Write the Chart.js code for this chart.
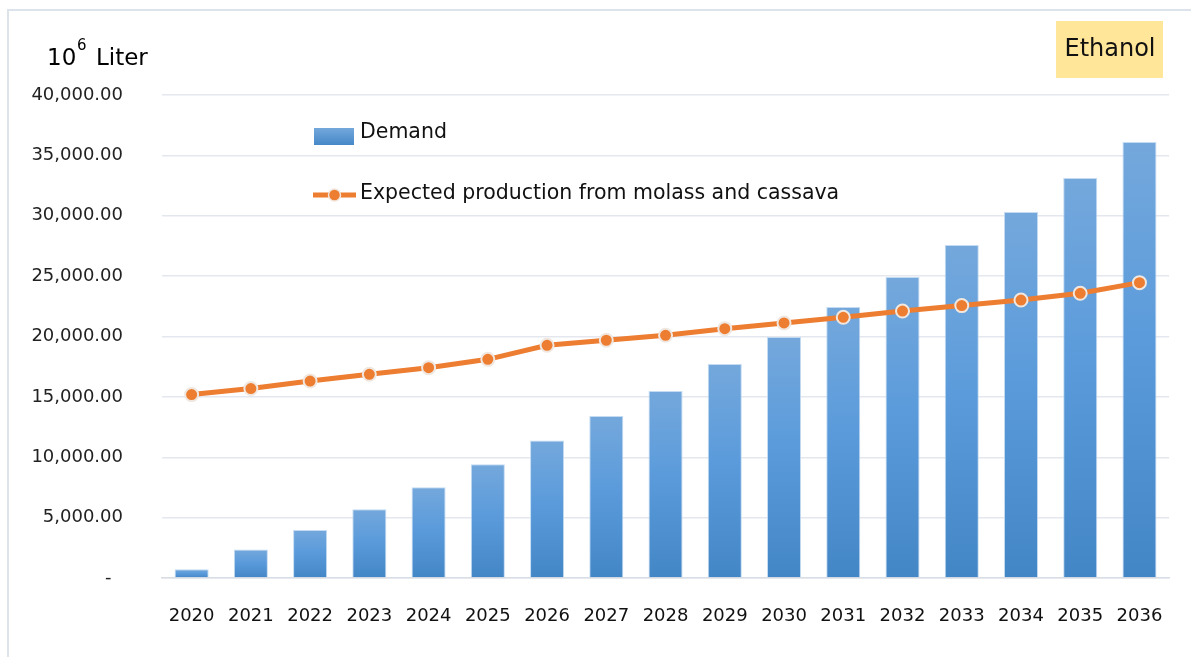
<!DOCTYPE html>
<html>
<head>
<meta charset="utf-8">
<title>Ethanol demand and production</title>
<script src="https://cdn.jsdelivr.net/npm/chart.js@4.4.1/dist/chart.umd.min.js"></script>
<style>
  html, body { margin: 0; padding: 0; background: #fff; }
  #wrap { position: relative; width: 1191px; height: 657px; overflow: hidden; }
  #frame {
    position: absolute; left: 7px; top: 9px; width: 1300px; height: 800px;
    border: 2px solid #dde3ea; box-sizing: border-box;
  }
  #chart { position: absolute; left: 0; top: 0; }
</style>
</head>
<body>
<div id="wrap">
  <div id="frame"></div>
  <canvas id="chart" width="1191" height="657"></canvas>
</div>
<script>
const years = ["2020", "2021", "2022", "2023", "2024", "2025", "2026", "2027", "2028",
  "2029", "2030", "2031", "2032", "2033", "2034", "2035", "2036"];

// million liters
const demand = [720, 2350, 3975, 5690, 7510, 9415, 11380, 13420, 15490,
  17730, 19960, 22440, 24930, 27580, 30310, 33130, 36110];

const production = [15190, 15690, 16310, 16870, 17420, 18110, 19270, 19690, 20100,
  20650, 21120, 21590, 22110, 22560, 23020, 23580, 24460];

const yTicks = [0, 5000, 10000, 15000, 20000, 25000, 30000, 35000, 40000];

const FONT = "'DejaVu Sans', Verdana, sans-serif";
const ORANGE = "#ED7D31";

function barFill(ctx) {
  const chart = ctx.chart;
  if (!chart.chartArea) return "#5B9BD5";
  const y = chart.scales.y;
  const top = y.getPixelForValue(ctx.raw);
  const bottom = y.getPixelForValue(0);
  const g = chart.ctx.createLinearGradient(0, top, 0, bottom);
  g.addColorStop(0, "#74a8dc");
  g.addColorStop(0.45, "#5b9bdb");
  g.addColorStop(1, "#4386c6");
  return g;
}

// title text, tag box and in-plot legend
const decorations = {
  id: "decorations",
  afterDraw(chart) {
    const c = chart.ctx;
    c.save();
    c.fillStyle = "#000";
    c.textBaseline = "alphabetic";
    c.textAlign = "left";
    c.font = `23px ${FONT}`;
    c.fillText("10", 47, 65);
    c.font = `15px ${FONT}`;
    c.fillText("6", 77, 50);
    c.font = `23px ${FONT}`;
    c.fillText("Liter", 96, 65);

    c.fillStyle = "#FFE699";
    c.fillRect(1056, 21, 107, 57);
    c.fillStyle = "#111";
    c.font = `24px ${FONT}`;
    c.textAlign = "center";
    c.textBaseline = "middle";
    c.fillText("Ethanol", 1110, 50);

    // legend
    const [bars, line] = chart.data.datasets;
    c.textAlign = "left";
    c.font = `20.5px ${FONT}`;
    const g = c.createLinearGradient(0, 128, 0, 146);
    g.addColorStop(0, "#74a8dc");
    g.addColorStop(1, "#4386c6");
    c.fillStyle = g;
    c.fillRect(314, 128, 40, 17);
    c.fillStyle = "#111";
    c.fillText(bars.label, 360, 133);

    c.strokeStyle = ORANGE;
    c.lineWidth = 5;
    c.beginPath();
    c.moveTo(313, 195);
    c.lineTo(356, 195);
    c.stroke();
    c.beginPath();
    c.arc(334.5, 195, 6, 0, Math.PI * 2);
    c.fillStyle = ORANGE;
    c.fill();
    c.lineWidth = 1.5;
    c.strokeStyle = "#f2e6dc";
    c.stroke();
    c.fillStyle = "#111";
    c.fillText(line.label, 360, 194);
    c.restore();
  }
};

new Chart(document.getElementById("chart"), {
  type: "bar",
  data: {
    labels: years,
    datasets: [
      {
        type: "bar",
        label: "Demand",
        data: demand,
        backgroundColor: barFill,
        borderColor: "rgba(190,215,240,0.9)",
        borderWidth: 1,
        categoryPercentage: 1,
        barPercentage: 0.575,
        order: 2,
      },
      {
        type: "line",
        label: "Expected production from molass and cassava",
        data: production,
        borderColor: ORANGE,
        borderWidth: 5,
        tension: 0,
        pointRadius: 6.5,
        pointBackgroundColor: ORANGE,
        pointBorderColor: "#efe7e0",
        pointBorderWidth: 2,
        order: 1,
      },
    ],
  },
  options: {
    responsive: false,
    animation: false,
    layout: { padding: { top: 95, right: 21, bottom: 0, left: 0 } },
    plugins: {
      legend: { display: false },
      tooltip: { enabled: false },
    },
    scales: {
      x: {
        grid: { display: false, drawTicks: false },
        border: { display: true, color: "#d9dde6", width: 1.5 },
        ticks: {
          color: "#111",
          font: { family: FONT, size: 18 },
          padding: 28,
          maxRotation: 0,
          autoSkip: false,
        },
        afterFit(scale) { scale.height = 79; },
      },
      y: {
        min: 0,
        max: 40000,
        afterBuildTicks(scale) { scale.ticks = yTicks.map((v) => ({ value: v })); },
        grid: { color: "#e4e7ee", lineWidth: 1.5, drawTicks: false },
        border: { display: false },
        ticks: {
          color: "#222",
          font: { family: FONT, size: 18 },
          padding: 39,
          callback: (v) => v === 0 ? "-  " :
            v.toLocaleString("en-US", { minimumFractionDigits: 2, maximumFractionDigits: 2 }),
        },
        afterFit(scale) { scale.width = 162; },
      },
    },
  },
  plugins: [decorations],
});
</script>
</body>
</html>
